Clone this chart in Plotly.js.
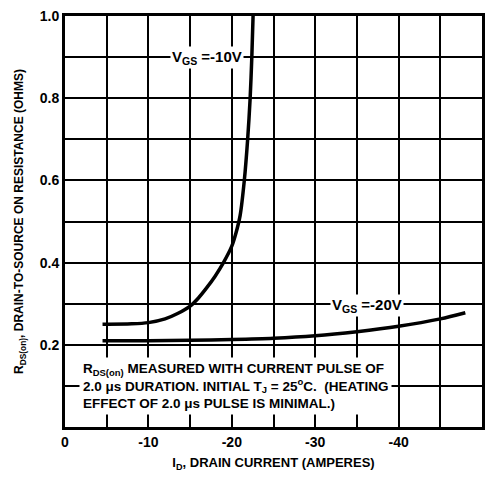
<!DOCTYPE html>
<html>
<head>
<meta charset="utf-8">
<script src="https://cdn.plot.ly/plotly-3.0.1.min.js"></script>
<style>html,body{margin:0;padding:0;background:#fff;}#chart{width:491px;height:477px;}</style>
</head>
<body>
<div id="chart"></div>
<script>
// V_GS = -10V curve
var idVgs10 = [-4.5, -8, -10, -12, -13.5, -15, -16, -17, -18, -19, -20, -20.5, -21, -21.5, -21.9, -22.2, -22.4, -22.55];
var rVgs10  = [0.25, 0.251, 0.254, 0.263, 0.276, 0.294, 0.314, 0.339, 0.367, 0.40, 0.44, 0.472, 0.515, 0.60, 0.70, 0.80, 0.90, 1.0];
// V_GS = -20V curve
var idVgs20 = [-4.5, -10, -15, -20, -25, -30, -35, -40, -45, -48];
var rVgs20  = [0.21, 0.21, 0.211, 0.213, 0.216, 0.222, 0.232, 0.245, 0.263, 0.278];

var xTickVals = [0, -10, -20, -30, -40, -50];
var xTickText = ['0', '-10', '-20', '-30', '-40', '-50'];
var yTickVals = [0.2, 0.4, 0.6, 0.8, 1.0];
var yTickText = ['0.2', '0.4', '0.6', '0.8', '1.0'];

var label10 = 'V<sub>GS</sub> =-10V';
var label20 = 'V<sub>GS</sub> =-20V';
var noteText = 'R<sub>DS(on)</sub> MEASURED WITH CURRENT PULSE OF<br>2.0 \u03bcs DURATION. INITIAL T<sub>J</sub> = 25<sup>o</sup>C.  (HEATING<br>EFFECT OF 2.0 \u03bcs PULSE IS MINIMAL.)';
var xTitle = 'I<sub>D</sub>, DRAIN CURRENT (AMPERES)';
var yTitle = 'R<sub>DS(on)</sub>, DRAIN-TO-SOURCE ON RESISTANCE (OHMS)';

var FONT = 'Liberation Sans';

var traces = [
  {x: idVgs10, y: rVgs10, mode: 'lines', line: {color: '#000', width: 3.5, shape: 'spline', smoothing: 0.8}, hoverinfo: 'skip'},
  {x: idVgs20, y: rVgs20, mode: 'lines', line: {color: '#000', width: 3.5, shape: 'spline', smoothing: 0.8}, hoverinfo: 'skip'}
];

var layout = {
  width: 491, height: 477,
  margin: {l: 65, r: 9, t: 16, b: 50},
  paper_bgcolor: '#fff', plot_bgcolor: '#fff',
  showlegend: false,
  font: {family: FONT, size: 14, color: '#000', weight: 700},
  xaxis: {
    range: [0, -50], tickvals: xTickVals, ticktext: xTickText,
    showgrid: true, gridcolor: '#000', gridwidth: 2,
    minor: {dtick: 5, showgrid: true, gridcolor: '#000', gridwidth: 2},
    showline: true, linecolor: '#000', linewidth: 3, mirror: true,
    zeroline: false, ticks: '',
    tickfont: {family: FONT, size: 14, color: '#000', weight: 700},
    title: {text: xTitle, font: {family: FONT, size: 13, color: '#000', weight: 700}, standoff: 10}
  },
  yaxis: {
    range: [0, 1.0], tickvals: yTickVals, ticktext: yTickText,
    showgrid: true, gridcolor: '#000', gridwidth: 2,
    minor: {dtick: 0.1, showgrid: true, gridcolor: '#000', gridwidth: 2},
    showline: true, linecolor: '#000', linewidth: 3, mirror: true,
    zeroline: false, ticks: '',
    tickfont: {family: FONT, size: 14, color: '#000', weight: 700},
    title: {text: yTitle, font: {family: FONT, size: 12, color: '#000', weight: 700}, standoff: 14}
  },
  annotations: [
    {x: -17, y: 0.9, xref: 'x', yref: 'y', text: label10, showarrow: false,
     bgcolor: '#fff', borderpad: 1, font: {family: FONT, size: 15, color: '#000', weight: 700}},
    {x: -36.2, y: 0.295, xref: 'x', yref: 'y', text: label20, showarrow: false,
     bgcolor: '#fff', borderpad: 1, font: {family: FONT, size: 15, color: '#000', weight: 700}},
    {x: -1.7, y: 0.1, xref: 'x', yref: 'y', xanchor: 'left', yanchor: 'middle', align: 'left',
     text: noteText, showarrow: false, bgcolor: '#fff', borderpad: 3,
     font: {family: FONT, size: 13.5, color: '#000', weight: 700}}
  ]
};

Plotly.newPlot('chart', traces, layout, {displayModeBar: false});
</script>
</body>
</html>
